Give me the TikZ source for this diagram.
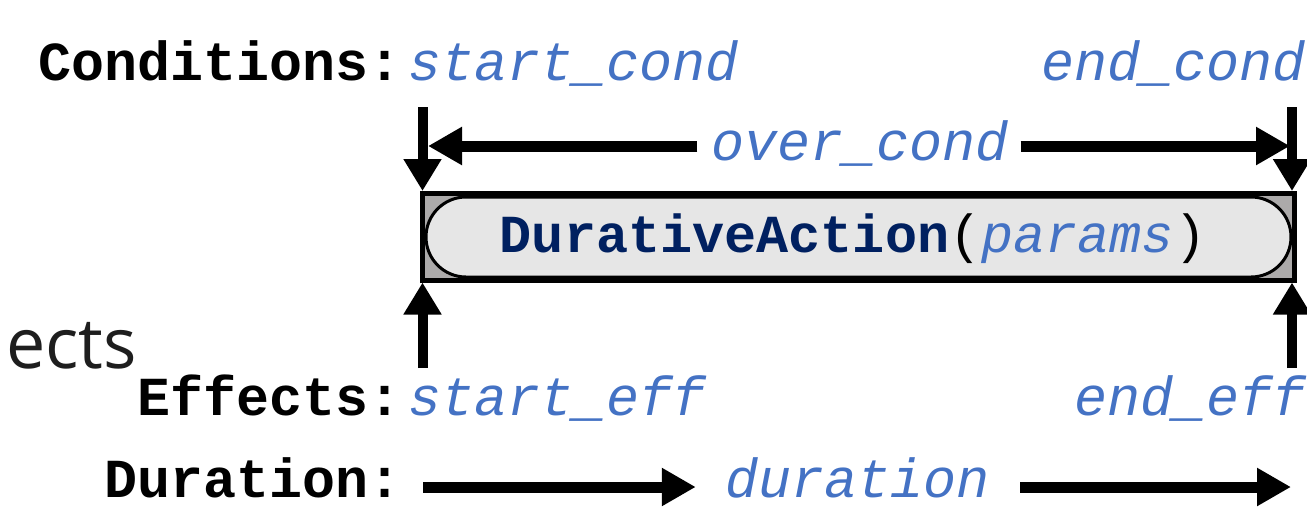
\documentclass[tikz,border=0pt]{standalone}
\usepackage{fontspec}
\usetikzlibrary{arrows.meta,shapes.misc,calc}
\newfontfamily\monofnt{Liberation Mono}
\newfontfamily\sansfnt{Open Sans}
\definecolor{varblue}{RGB}{68,114,196}
\definecolor{navy}{RGB}{0,32,96}
\definecolor{cornergray}{RGB}{172,170,170}
\definecolor{innergray}{RGB}{230,230,230}
\definecolor{sansgray}{RGB}{30,30,30}
\tikzset{
  keylbl/.style={inner sep=0pt, font=\monofnt\bfseries\fontsize{55pt}{60pt}\selectfont, text=black},
  varlbl/.style={inner sep=0pt, font=\monofnt\itshape\fontsize{55pt}{60pt}\selectfont, text=varblue},
  bigarrow/.style={line width=11pt, -{Triangle[length=34pt,width=36pt]}},
  vertarrow/.style={line width=10pt, -{Triangle[length=32pt,width=36pt]}},
}
\begin{document}
\begin{tikzpicture}[x=1pt,y=-1pt]
\useasboundingbox (0,0) rectangle (1307,507);
% cropped sans text
\node[inner sep=0pt, anchor=base east, font=\sansfnt\fontsize{70pt}{74pt}\selectfont, text=sansgray] (ects) at (137,368) {ects};
% labels
\node[keylbl, anchor=base east] (condlbl) at (402,80) {Conditions:};
\node[varlbl, anchor=base west] (startcond) at (408,80) {start\_cond};
\node[varlbl, anchor=base east] (endcond) at (1306,80) {end\_cond};
\node[keylbl, anchor=base east] (efflbl) at (402,415) {Effects:};
\node[varlbl, anchor=base west] (starteff) at (408,415) {start\_eff};
\node[varlbl, anchor=base east] (endeff) at (1306,415) {end\_eff};
\node[keylbl, anchor=base east] (durlbl) at (402,497) {Duration:};
\node[varlbl, anchor=base] (dur) at (858,497) {duration};
\node[varlbl, anchor=base] (overcond) at (860,160) {over\_cond};
% box
\node[draw, line width=5pt, fill=cornergray, minimum width=872pt, minimum height=86.5pt, inner sep=0pt] (box) at (858.5,236.75) {};
\node[draw, line width=3pt, fill=innergray, rounded rectangle, minimum width=865pt, minimum height=80pt, inner sep=0pt] (inner) at (858.5,237) {};
\node[inner sep=0pt, anchor=base, font=\monofnt\fontsize{53.5pt}{58pt}\selectfont] (action) at (853,252) {\textcolor{navy}{\bfseries DurativeAction}(\textcolor{varblue}{\itshape params})};
% coordinates
\coordinate (dl) at (422.5,107);
\coordinate (dr) at (1292,107);
\coordinate (ul) at (422.5,368);
\coordinate (ur) at (1292,368);
\coordinate (ocl) at (428,146);
\coordinate (ocr) at (1290,146);
\coordinate (dus) at (423,487);
\coordinate (due) at (1291,487);
\coordinate (ocls) at ($(overcond.west |- ocl)+(-14,0)$);
\coordinate (ocrs) at ($(overcond.east |- ocr)+(12,0)$);
\coordinate (duse) at ($(dur.west |- dus)+(-30,0)$);
\coordinate (dues) at ($(dur.east |- due)+(30,0)$);
% arrows
\draw[vertarrow] (dl) -- (dl |- box.north);
\draw[vertarrow] (dr) -- (dr |- box.north);
\draw[vertarrow] (ul) -- (ul |- box.south);
\draw[vertarrow] (ur) -- (ur |- box.south);
\draw[bigarrow] (ocls) -- (ocl);
\draw[bigarrow] (ocrs) -- (ocr);
\draw[bigarrow] (dus) -- (duse);
\draw[bigarrow] (dues) -- (due);
\end{tikzpicture}
\end{document}
